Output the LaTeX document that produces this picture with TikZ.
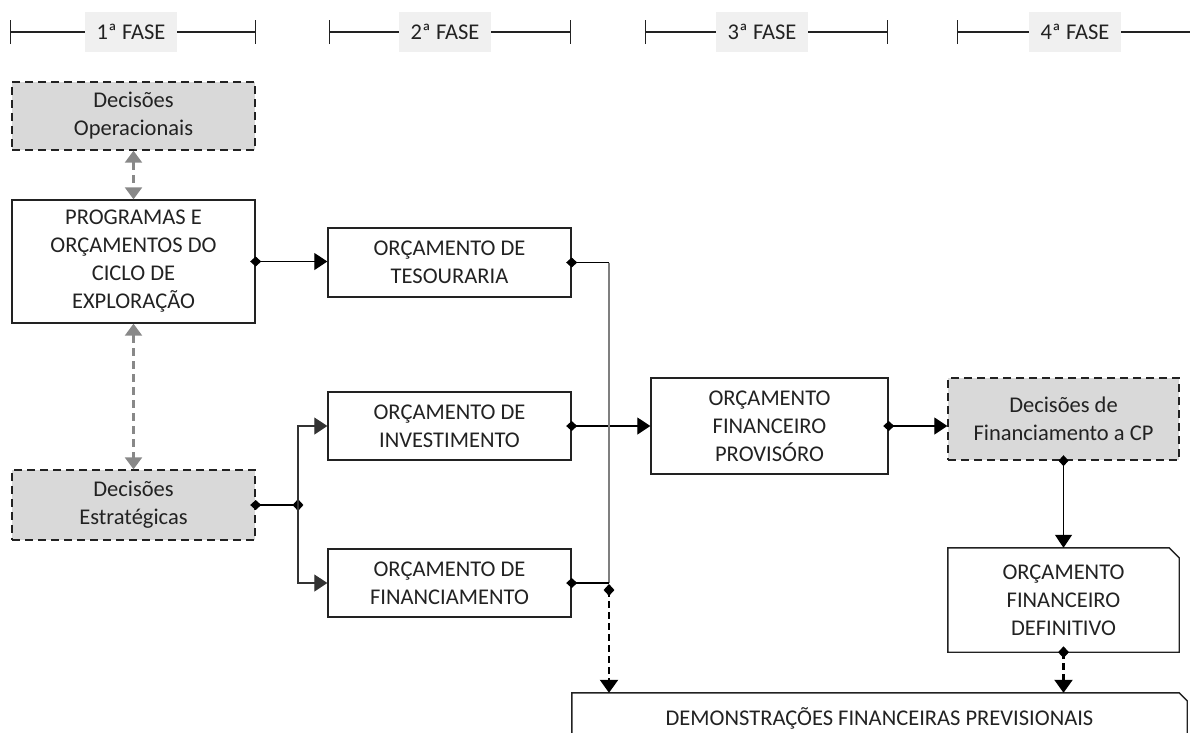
\documentclass[tikz,border=0pt]{standalone}
\usepackage{fontspec}
\setmainfont{Carlito}
\usetikzlibrary{arrows.meta,shapes.geometric}
\definecolor{decgray}{HTML}{D9D9D9}
\definecolor{labgray}{HTML}{F0F0F0}
\definecolor{ink}{HTML}{222222}
\definecolor{arrgray}{HTML}{888888}
\definecolor{linegray}{HTML}{7F7F7F}
\begin{document}
\begin{tikzpicture}[x=1pt,y=-1pt,
  font=\fontsize{22.5}{28}\selectfont,
  box/.style={draw=ink, line width=1.4pt, minimum width=243pt, inner sep=0pt, align=center, text=ink},
  decbox/.style={box, fill=decgray, dash pattern=on 8pt off 5pt},
  plainbox/.style={draw=none, inner sep=0pt, align=center, text=ink},
  lab/.style={fill=labgray, minimum width=92pt, minimum height=40pt, inner sep=0pt, text=ink},
  phasebar/.style={line width=1.3pt, draw=ink},
  conn/.style={draw=black, line width=1.1pt, {Diamond[length=11pt,width=10pt]}-{Triangle[length=13pt,width=17pt]}, shorten <=-5.5pt},
  dstart/.style={draw=black, line width=1.1pt, {Diamond[length=11pt,width=10pt]}-, shorten <=-5.5pt},
  branch/.style={draw=black!80, line width=1.1pt, -{Triangle[length=13pt,width=17pt]}},
  gline/.style={draw=linegray, line width=1.1pt},
  jdot/.style={diamond, fill=black, inner sep=0pt, minimum width=11pt, minimum height=12pt},
  dasharrow/.style={draw=black, line width=2.2pt, dash pattern=on 7pt off 4pt, -{Triangle[length=13pt,width=18pt]}},
  grayarrow/.style={draw=arrgray, line width=2.4pt, dash pattern=on 8pt off 5pt, {Triangle[length=12pt,width=17pt]}-{Triangle[length=12pt,width=17pt]}}
]
\useasboundingbox (0,0) rectangle (1190,732);

% phase bars
\coordinate (b1l) at (10,32);  \coordinate (b1r) at (256,32);
\coordinate (b2l) at (329,32); \coordinate (b2r) at (571,32);
\coordinate (b3l) at (645,32); \coordinate (b3r) at (888,32);
\coordinate (b4l) at (957,32); \coordinate (b4r) at (1190,32);
\draw[phasebar, {Bar[width=24pt]}-{Bar[width=24pt]}] (b1l) -- (b1r);
\draw[phasebar, {Bar[width=24pt]}-{Bar[width=24pt]}] (b2l) -- (b2r);
\draw[phasebar, {Bar[width=24pt]}-{Bar[width=24pt]}] (b3l) -- (b3r);
\draw[phasebar, {Bar[width=24pt]}-] (b4l) -- (b4r);
\node[lab] (p1) at (131,32) {1ª FASE};
\node[lab] (p2) at (445,32) {2ª FASE};
\node[lab] (p3) at (762,32) {3ª FASE};
\node[lab] (p4) at (1075,32) {4ª FASE};

% boxes
\node[decbox, minimum height=68pt] (op) at (133.5,116) {Decisões\\Operacionais};
\node[box, minimum height=123pt] (prog) at (133.5,261.5) {PROGRAMAS E\\ORÇAMENTOS DO\\CICLO DE\\EXPLORAÇÃO};
\node[decbox, minimum height=70pt] (estr) at (133.5,505) {Decisões\\Estratégicas};
\node[box, minimum height=69pt] (tes) at (449.5,262.5) {ORÇAMENTO DE\\TESOURARIA};
\node[box, minimum height=68pt] (inv) at (449.5,426) {ORÇAMENTO DE\\INVESTIMENTO};
\node[box, minimum height=68pt] (fin) at (449.5,583) {ORÇAMENTO DE\\FINANCIAMENTO};
\node[box, minimum width=237pt, minimum height=96pt] (prov) at (769.5,426) {ORÇAMENTO\\FINANCEIRO\\PROVISÓRO};
\node[decbox, minimum width=231pt, minimum height=82pt] (dcp) at (1063.5,419) {Decisões de\\Financiamento a CP};
\node[plainbox, minimum width=231pt, minimum height=104pt] (def) at (1063.5,600) {ORÇAMENTO\\FINANCEIRO\\DEFINITIVO};
\draw[draw=ink, line width=1.4pt] (def.south west) -- (def.north west) -- ([xshift=-10pt]def.north east) -- ([yshift=-10pt]def.north east) -- (def.south east) -- cycle;
\node[plainbox, minimum width=615pt, minimum height=50pt] (dem) at (879.5,718) {DEMONSTRAÇÕES FINANCEIRAS\ PREVISIONAIS};
\draw[draw=ink, line width=1.4pt] ([yshift=-50pt]dem.north west) -- (dem.north west) -- ([xshift=-8pt]dem.north east) -- ([yshift=-8pt]dem.north east) -- ([yshift=-50pt]dem.north east);

% gray double arrows
\draw[grayarrow] (op.south) -- (prog.north);
\draw[grayarrow] (prog.south) -- (estr.north);

% connectors
\draw[conn] (prog.east) -- (prog.east -| tes.west);
\node[jdot] (j) at (298,505) {};
\draw[dstart] (estr.east) -- (j.center);
\draw[branch] (j.center) |- (inv.west);
\draw[branch] (j.center) |- (fin.west);
\draw[conn] (inv.east) -- (prov.west);
\coordinate (vx) at (609,0);
\coordinate (c1) at (tes.east -| vx);
\coordinate (c2) at (fin.east -| vx);
\draw[gline] (c1) -- (c2);
\draw[dstart] (tes.east) -- (c1);
\draw[dstart] (fin.east) -- (c2);
\node[jdot] (j2) at (609,590) {};
\draw[dasharrow] (j2.center) -- (j2 |- dem.north);
\draw[conn] (prov.east) -- (dcp.west |- prov.east);
\draw[conn] (dcp.south) -- (def.north);
\draw[dasharrow] (def.south) -- (def.south |- dem.north);
\node[jdot] at (def.south) {};
\end{tikzpicture}
\end{document}
